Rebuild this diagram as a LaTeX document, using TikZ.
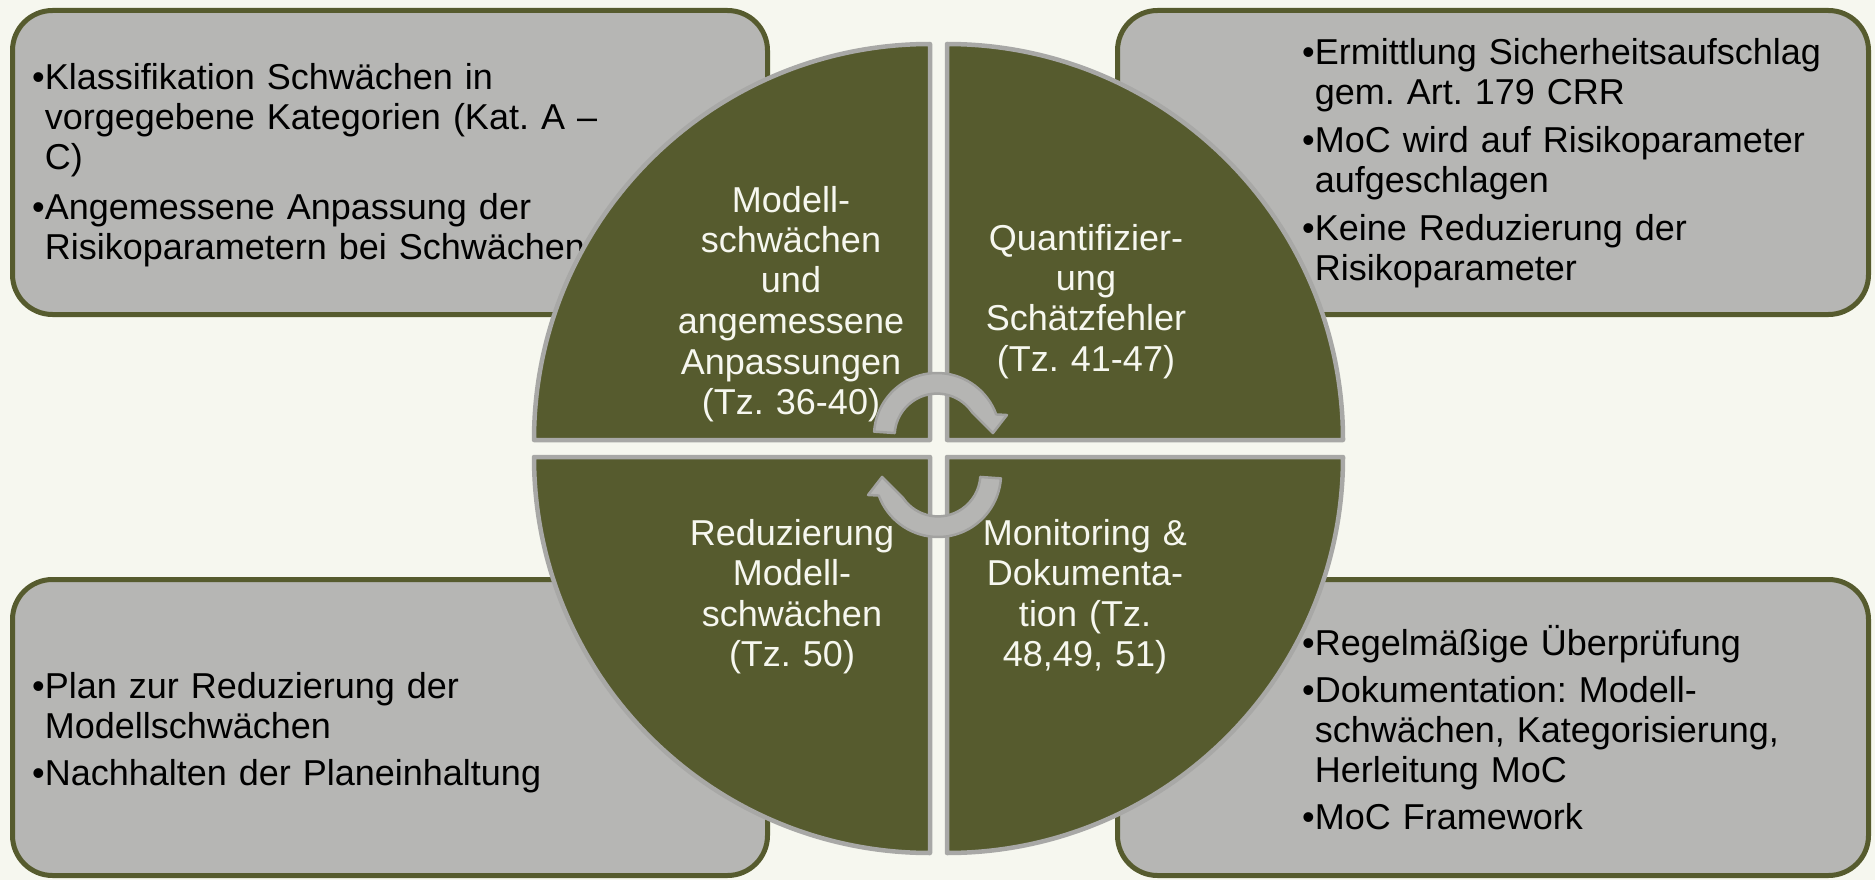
\documentclass[tikz,border=0pt]{standalone}
\usepackage{fontspec}
\setmainfont{Liberation Sans}
\frenchspacing
\definecolor{bg}{HTML}{F6F7EF}
\definecolor{olive}{HTML}{565B2E}
\definecolor{boxgray}{HTML}{B6B6B4}
\definecolor{rimgray}{HTML}{A8A8A6}
\definecolor{arrowfill}{HTML}{B5B5B3}
\definecolor{arrowrim}{HTML}{A2A2A0}
% bullet with hanging indent for the continuation lines
\newcommand\bul{\hangindent=0.35em\hangafter=1 •}
\begin{document}
\begin{tikzpicture}[x=1pt,y=-1pt,
  infobox/.style={draw=olive, line width=5pt, fill=boxgray, rounded corners=40pt},
  boxtext/.style={inner sep=0pt, anchor=base west, text width=700pt, align=left,
    text=black, font=\fontsize{36}{40}\selectfont},
  quarter/.style={fill=olive, draw=rimgray, line width=4.5pt, line join=round},
  quartertext/.style={inner sep=0pt, anchor=base, text width=320pt, align=center,
    text=bg, font=\fontsize{36}{40.5}\selectfont},
  cyclearrow/.style={fill=arrowfill, draw=arrowrim, line width=2.5pt, line join=round},
  turnarrow/.pic={
    \draw[cyclearrow] (-176:63) arc[start angle=-176, end angle=-20, radius=63]
      -- (-16.7:73) -- (-3:56) -- (-34.4:42.4)
      arc[start angle=-34.4, end angle=-176, radius=42.4] -- cycle;
  }]
\useasboundingbox (0,0) rectangle (1875,880);
\fill[bg] (0,0) rectangle (1875,880);

% four rounded info boxes
\draw[infobox] (12.5,10.5) rectangle (767.5,314.5);
\draw[infobox] (1117.5,10.5) rectangle (1868.5,314.5);
\draw[infobox] (12.5,579.5) rectangle (767.5,875.5);
\draw[infobox] (1117.5,579.5) rectangle (1868.5,875.5);

% bullet texts of the boxes
\node[boxtext] (tl-text) at (32,90) {\setlength{\parskip}{10pt}%
  \bul Klassifikation Schwächen in\newline vorgegebene Kategorien (Kat. A –\newline C)\par
  \bul Angemessene Anpassung der\newline Risikoparametern bei Schwächen\par};
\node[boxtext] (tr-text) at (1302,65) {\setlength{\parskip}{8pt}%
  \bul Ermittlung Sicherheitsaufschlag\newline gem. Art. 179 CRR\par
  \bul MoC wird auf Risikoparameter\newline aufgeschlagen\par
  \bul Keine Reduzierung der\newline Risikoparameter\par};
\node[boxtext] (bl-text) at (32,698) {\setlength{\parskip}{7pt}%
  \bul Plan zur Reduzierung der\newline Modellschwächen\par
  \bul Nachhalten der Planeinhaltung\par};
\node[boxtext] (br-text) at (1302,655) {\setlength{\parskip}{7pt}%
  \bul Regelmäßige Überprüfung\par
  \bul Dokumentation: Modell-\newline schwächen, Kategorisierung,\newline Herleitung MoC\par
  \bul MoC Framework\par};

% the four quarters of the central disc
\draw[quarter] (930,440) -- ++(180:396) arc[start angle=180, end angle=270, radius=396] -- cycle;
\draw[quarter] (947,440) -- ++(270:396) arc[start angle=270, end angle=360, radius=396] -- cycle;
\draw[quarter] (947,457) -- ++(0:396) arc[start angle=0, end angle=90, radius=396] -- cycle;
\draw[quarter] (930,457) -- ++(90:396) arc[start angle=90, end angle=180, radius=396] -- cycle;

% quarter labels
\node[quartertext] (q-tl) at (791,212) {Modell-\\schwächen\\und\\angemessene\\Anpassungen\\(Tz. 36-40)};
\node[quartertext] (q-tr) at (1086,250) {Quantifizier-\\ung\\Schätzfehler\\(Tz. 41-47)};
\node[quartertext] (q-bl) at (792,545) {Reduzierung\\Modell-\\schwächen\\(Tz. 50)};
\node[quartertext] (q-br) at (1085,545) {Monitoring \&\\Dokumenta-\\tion (Tz.\\48,49, 51)};

% circular arrows in the middle
\pic at (937,436) {turnarrow};
\pic[rotate=180] at (938,474) {turnarrow};
\end{tikzpicture}
\end{document}
